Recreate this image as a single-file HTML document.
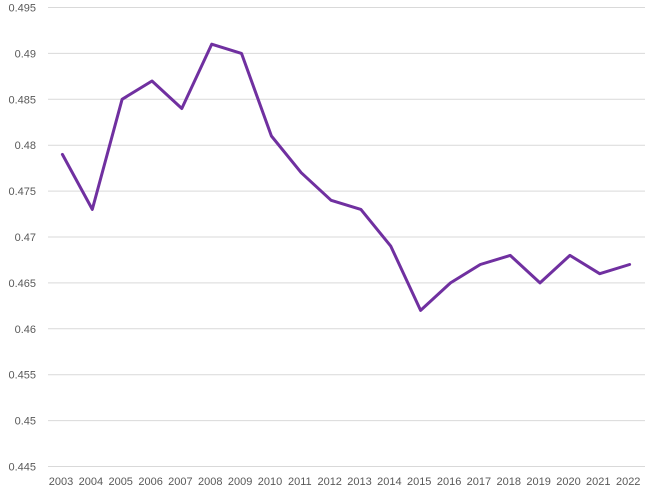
<!DOCTYPE html>
<html><head><meta charset="utf-8"><style>
html,body{margin:0;padding:0;background:#fff;}
svg{display:block;}
text{font-family:"Liberation Sans",sans-serif;font-size:11px;fill:#595959;}
</style></head><body>
<svg width="660" height="492" viewBox="0 0 660 492">
<g stroke="#d9d9d9" stroke-width="1">
<line x1="48" x2="645" y1="7.5" y2="7.5"/>
<line x1="48" x2="645" y1="53.4" y2="53.4"/>
<line x1="48" x2="645" y1="99.3" y2="99.3"/>
<line x1="48" x2="645" y1="145.2" y2="145.2"/>
<line x1="48" x2="645" y1="191.1" y2="191.1"/>
<line x1="48" x2="645" y1="237" y2="237"/>
<line x1="48" x2="645" y1="282.9" y2="282.9"/>
<line x1="48" x2="645" y1="328.8" y2="328.8"/>
<line x1="48" x2="645" y1="374.7" y2="374.7"/>
<line x1="48" x2="645" y1="420.6" y2="420.6"/>
<line x1="48" x2="645" y1="466.5" y2="466.5"/>
</g>
<g text-anchor="end">
<text x="36" y="11.5">0.495</text>
<text x="36" y="57.4">0.49</text>
<text x="36" y="103.3">0.485</text>
<text x="36" y="149.2">0.48</text>
<text x="36" y="195.1">0.475</text>
<text x="36" y="241">0.47</text>
<text x="36" y="286.9">0.465</text>
<text x="36" y="332.8">0.46</text>
<text x="36" y="378.7">0.455</text>
<text x="36" y="424.6">0.45</text>
<text x="36" y="470.5">0.445</text>
</g>
<g text-anchor="middle">
<text x="61" y="485">2003</text>
<text x="90.9" y="485">2004</text>
<text x="120.7" y="485">2005</text>
<text x="150.6" y="485">2006</text>
<text x="180.4" y="485">2007</text>
<text x="210.3" y="485">2008</text>
<text x="240.1" y="485">2009</text>
<text x="270" y="485">2010</text>
<text x="299.8" y="485">2011</text>
<text x="329.7" y="485">2012</text>
<text x="359.5" y="485">2013</text>
<text x="389.4" y="485">2014</text>
<text x="419.2" y="485">2015</text>
<text x="449.1" y="485">2016</text>
<text x="478.9" y="485">2017</text>
<text x="508.8" y="485">2018</text>
<text x="538.6" y="485">2019</text>
<text x="568.5" y="485">2020</text>
<text x="598.3" y="485">2021</text>
<text x="628.2" y="485">2022</text>
</g>
<polyline fill="none" stroke="#7030A0" stroke-width="3" stroke-linejoin="round" stroke-linecap="round"
points="62.4,154.4 92.3,209.4 122.1,99.3 152,81 181.8,108.5 211.7,44.2 241.5,53.4 271.4,136 301.2,172.7 331.1,200.3 360.9,209.4 390.8,246.2 420.6,310.4 450.5,282.9 480.3,264.5 510.2,255.4 540,282.9 569.9,255.4 599.7,273.7 629.6,264.5"/>
</svg>
</body></html>
